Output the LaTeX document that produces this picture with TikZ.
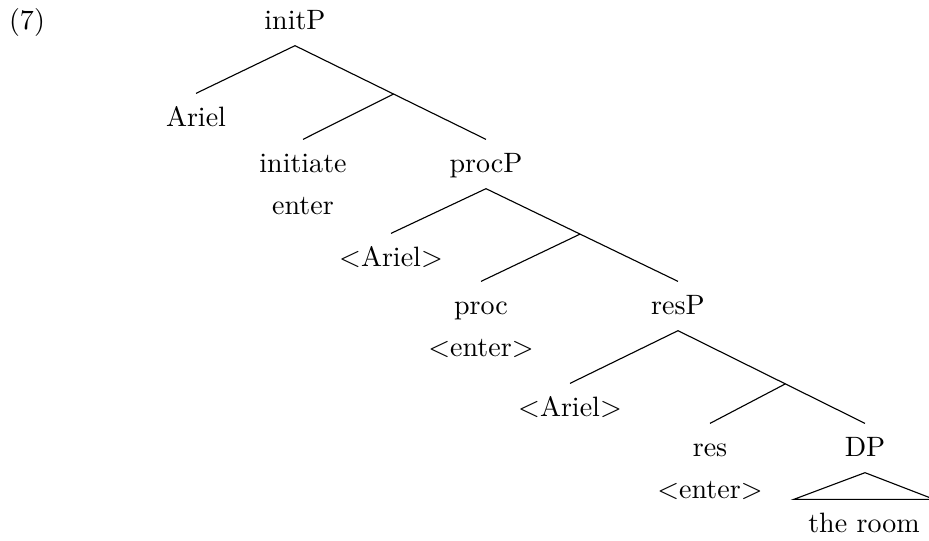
\documentclass[tikz,border=0pt]{standalone}
\usetikzlibrary{calc}
\tikzset{
  cat/.style={anchor=base, inner xsep=2pt, inner ysep=3pt, text height=8.8pt, text depth=2.4pt},
  roofed/.style={cat, inner xsep=5pt},
  branch/.style={thin},
}
\newcommand{\Tr}[1]{$<$#1$>$}

\begin{document}
\begin{tikzpicture}[x=0.357pt, y=-0.357pt]
    \useasboundingbox (0,0) rectangle (929,541);
    \node[cat] (ex)    at (27,30)   {(7)};
    % initP
    \node[cat] (init)  at (295,30)  {initP};
    \node[cat] (isubj) at (196,127) {Ariel};
    \node[cat] (ihead) at (303,173) {initiate};
    \node[cat] (iword) at (303,215) {enter};
    % procP
    \node[cat] (proc)  at (486,173) {procP};
    \node[cat] (psubj) at (391,267) {\Tr{Ariel}};
    \node[cat] (phead) at (481,315) {proc};
    \node[cat] (pword) at (481,357) {\Tr{enter}};
    % resP
    \node[cat] (res)   at (678,315) {resP};
    \node[cat] (rsubj) at (570,417) {\Tr{Ariel}};
    \node[cat] (rhead) at (710,457) {res};
    \node[cat] (rword) at (710,499) {\Tr{enter}};
    \node[cat] (dp)    at (865,457) {DP};
    \node[roofed] (room) at (864,533) {the room};
    % bar joints
    \coordinate (ibar) at ($(init.south)!0.516!(proc.north)$);
    \coordinate (pbar) at ($(proc.south)!0.49!(res.north)$);
    \coordinate (rbar) at ($(res.south)!0.574!(dp.north)$);
    \draw[branch] (isubj.north) -- (init.south) -- (proc.north);
    \draw[branch] (ibar) -- (ihead.north);
    \draw[branch] (psubj.north) -- (proc.south) -- (res.north);
    \draw[branch] (pbar) -- (phead.north);
    \draw[branch] (rsubj.north) -- (res.south) -- (dp.north);
    \draw[branch] (rbar) -- (rhead.north);
    \draw[branch] (dp.south) -- (room.north west) -- (room.north east) -- cycle;
  \end{tikzpicture}
\end{document}
